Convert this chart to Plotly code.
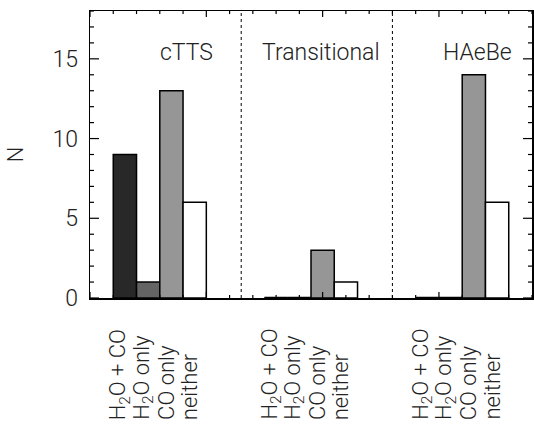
import plotly.graph_objects as go

# ---- data ----
groups = ["cTTS", "Transitional", "HAeBe"]
categories = ["H<sub>2</sub>O + CO", "H<sub>2</sub>O only", "CO only", "neither"]
h2o_co = [9, 0, 0]
h2o_only = [1, 0, 0]
co_only = [13, 3, 14]
neither = [6, 1, 6]
y_ticks = [0, 5, 10, 15]

# ---- layout constants ----
group_start = [1.0, 7.5, 14.0]
boundaries = [6.5, 13.0]
group_label_x = [4.15, 9.95, 16.65]
group_label_y = 15.4
colors = ["#282828", "#646464", "#969696", "#ffffff"]
series = [h2o_co, h2o_only, co_only, neither]
XR = [0, 19]
YR = [0, 18]
x_major = [0, 5, 10, 15]
x_minor = list(range(0, 20))
y_minor = list(range(0, 19))

FONT = "Roboto"
fig = go.Figure()

for ci, vals in enumerate(series):
    xs = [group_start[g] + ci + 0.5 for g in range(len(groups))]
    fig.add_trace(go.Bar(
        x=xs, y=vals, width=1.0,
        marker=dict(color=colors[ci], line=dict(color="black", width=1.5)),
        showlegend=False, hoverinfo="skip",
    ))
    # zero-valued bars drawn as a flat outline
    zx, zy = [], []
    for g, v in enumerate(vals):
        if v == 0:
            c = group_start[g] + ci + 0.5
            zx += [c - 0.5, c + 0.5, None]
            zy += [0, 0, None]
    if zx:
        fig.add_trace(go.Scatter(x=zx, y=zy, mode="lines",
                                 line=dict(color="black", width=2.5),
                                 showlegend=False, hoverinfo="skip", cliponaxis=False))

for b in boundaries:
    fig.add_shape(type="line", xref="x", yref="paper", x0=b, x1=b, y0=0, y1=1,
                  opacity=1, line=dict(color="black", width=1, dash="dot"))

# tick marks (inside, on all four sides)
tick_line = dict(color="black", width=1.2)
for v in x_minor:
    ln = 6 if v in x_major else 3
    fig.add_shape(type="line", xref="x", x0=v, x1=v, yref="paper", ysizemode="pixel",
                  yanchor=0, y0=0, y1=ln, line=tick_line, opacity=1, layer="above")
    fig.add_shape(type="line", xref="x", x0=v, x1=v, yref="paper", ysizemode="pixel",
                  yanchor=1, y0=0, y1=-ln, line=tick_line, opacity=1, layer="above")
for v in y_minor:
    ln = 9 if v in y_ticks else 4
    fig.add_shape(type="line", yref="y", y0=v, y1=v, xref="paper", xsizemode="pixel",
                  xanchor=0, x0=0, x1=ln, line=tick_line, opacity=1, layer="above")
    fig.add_shape(type="line", yref="y", y0=v, y1=v, xref="paper", xsizemode="pixel",
                  xanchor=1, x0=0, x1=-ln, line=tick_line, opacity=1, layer="above")

for g, name in enumerate(groups):
    fig.add_annotation(x=group_label_x[g], y=group_label_y, xref="x", yref="y",
                       text=name, showarrow=False,
                       font=dict(family=FONT, size=23, color="#222", weight=300))

for g in range(len(groups)):
    for ci, cat in enumerate(categories):
        fig.add_annotation(x=group_start[g] + ci + 0.5, y=-0.432, xref="x", yref="paper",
                           text=cat, showarrow=False, textangle=-90,
                           xanchor="center", yanchor="bottom", xshift=-5,
                           font=dict(family=FONT, size=22, color="#222", weight=300))

common = dict(showgrid=False, zeroline=False, automargin=False, fixedrange=True)
fig.update_layout(
    template="none",
    width=534, height=426,
    margin=dict(l=90, r=2, t=11, b=128),
    paper_bgcolor="white", plot_bgcolor="white",
    barmode="overlay",
    font=dict(family=FONT, color="#222", weight=300),
    xaxis=dict(range=XR, showline=True, linecolor="black", linewidth=1.5, mirror=True,
               ticks="", showticklabels=False, **common),
    yaxis=dict(range=YR, showline=True, linecolor="black", linewidth=1.5, mirror=True,
               ticks="", tickmode="array", tickvals=y_ticks, ticklabelstandoff=6,
               tickfont=dict(family=FONT, size=23, color="#222", weight=300),
               title=dict(text="N", standoff=22, font=dict(family=FONT, size=22, color="#222", weight=300)),
               **common),
)

fig.write_html("out.html", config=dict(displayModeBar=False, staticPlot=True),
               post_script="document.body.style.margin='0';document.body.style.padding='0';")
